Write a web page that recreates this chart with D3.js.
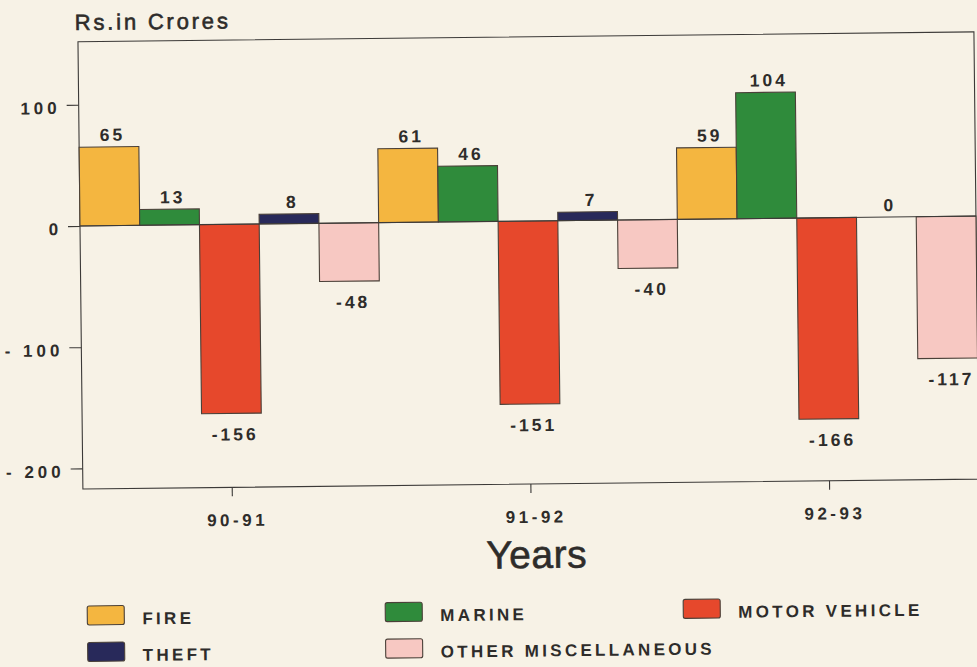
<!DOCTYPE html>
<html>
<head>
<meta charset="utf-8">
<script src="https://cdn.jsdelivr.net/npm/d3@7"></script>
<style>
  html, body { margin: 0; padding: 0; background: #f7f2e6; }
  svg { display: block; }
  text { fill: #2e2c2a; font-family: 'Liberation Sans', Arial, sans-serif; }
</style>
</head>
<body>
<svg id="chart" width="977" height="667"></svg>
<script>
'use strict';

const years = ['90-91', '91-92', '92-93'];
const seriesNames = ['FIRE', 'MARINE', 'MOTOR VEHICLE', 'THEFT', 'OTHER MISCELLANEOUS'];
const fire = [65, 61, 59];
const marine = [13, 46, 104];
const motorVehicle = [-156, -151, -166];
const theft = [8, 7, 0];
const otherMisc = [-48, -40, -117];
const yTicks = [100, 0, -100, -200];
const seriesColors = ['#f4b640', '#2f8b3b', '#e6482c', '#28295a', '#f7c8c2'];

const values = [fire, marine, motorVehicle, theft, otherMisc];
const rows = [];
years.forEach((yr, i) => {
  seriesNames.forEach((s, j) => rows.push({ year: yr, series: s, value: values[j][i], color: seriesColors[j] }));
});

const plotLeft = 80, plotRight = 976, plotTop = 41.7, plotBottom = 489;

const svg = d3.select('#chart');
svg.append('rect').attr('width', 977).attr('height', 667).attr('fill', '#f7f2e6');

// the scan is tilted a little, so the whole drawing is too
const g = svg.append('g')
  .attr('transform', 'rotate(-0.63, 81, 226)');

const x0 = d3.scaleBand().domain(years).range([plotLeft, plotRight]).padding(0);
const x1 = d3.scaleBand().domain(seriesNames).range([0, x0.bandwidth()]).padding(0);
const y = d3.scaleLinear().domain([-217, 152]).range([plotBottom, plotTop]);

// frame
g.append('rect')
  .attr('x', plotLeft).attr('y', plotTop)
  .attr('width', plotRight - plotLeft).attr('height', plotBottom - plotTop)
  .attr('fill', 'none').attr('stroke', '#3c3a38').attr('stroke-width', 1.1);

// bars
g.append('g').selectAll('rect')
  .data(rows)
  .enter().append('rect')
  .attr('x', d => x0(d.year) + x1(d.series))
  .attr('width', x1.bandwidth())
  .attr('y', d => y(Math.max(0, d.value)))
  .attr('height', d => Math.abs(y(d.value) - y(0)))
  .attr('fill', d => d.color)
  .attr('stroke', '#4a4038')
  .attr('stroke-width', 1.1);

// zero line
g.append('line')
  .attr('x1', plotLeft).attr('x2', plotRight)
  .attr('y1', y(0)).attr('y2', y(0))
  .attr('stroke', '#3c3a38').attr('stroke-width', 1);

// value labels
g.append('g').selectAll('text')
  .data(rows)
  .enter().append('text')
  .attr('x', d => x0(d.year) + x1(d.series) + x1.bandwidth() / 2 + 2)
  .attr('y', d => d.value >= 0 ? y(d.value) - 6 : y(d.value) + 27)
  .attr('text-anchor', 'middle')
  .attr('dx', 1.5)
  .style('font-size', '17.5px')
  .style('font-weight', 'bold')
  .style('letter-spacing', '3px')
  .text(d => d.value < 0 ? '-' + Math.abs(d.value) : d.value);

// y axis
const yAxis = g.append('g')
  .attr('transform', `translate(${plotLeft},0)`)
  .call(d3.axisLeft(y)
    .tickValues(yTicks)
    .tickSize(12)
    .tickPadding(6)
    .tickFormat(d => d < 0 ? '- ' + Math.abs(d) : d));
yAxis.select('.domain').remove();
yAxis.selectAll('line').attr('stroke', '#3c3a38').attr('stroke-width', 1.1);
yAxis.selectAll('text')
  .attr('dy', '0.5em')
  .style('font-size', '17px')
  .style('font-weight', 'bold')
  .style('letter-spacing', '4px')
  .style('font-family', "'Liberation Sans', Arial, sans-serif")
  .attr('fill', '#2e2c2a');

// x axis
const xAxis = g.append('g')
  .attr('transform', `translate(0,${plotBottom})`)
  .call(d3.axisBottom(x0).tickSize(9).tickSizeOuter(0).tickPadding(28));
xAxis.select('.domain').remove();
xAxis.selectAll('line').attr('stroke', '#3c3a38').attr('stroke-width', 1.1);
xAxis.selectAll('text')
  .attr('dy', '0.1em')
  .attr('dx', '5px')
  .style('font-size', '17px')
  .style('font-weight', 'bold')
  .style('letter-spacing', '3.5px')
  .style('font-family', "'Liberation Sans', Arial, sans-serif")
  .attr('fill', '#2e2c2a');

// titles
g.append('text')
  .attr('x', 77).attr('y', 30)
  .style('font-size', '22px')
  .style('letter-spacing', '2.8px')
  .attr('stroke', '#2e2c2a').attr('stroke-width', 0.6)
  .text('Rs.in Crores');

g.append('text')
  .attr('x', 533).attr('y', 573)
  .attr('text-anchor', 'middle')
  .style('font-family', "'Liberation Sans Narrow', 'Liberation Sans', Arial, sans-serif")
  .style('font-size', '39px')
  .style('letter-spacing', '0.5px')
  .attr('stroke', '#2e2c2a').attr('stroke-width', 0.6)
  .text('Years');

// legend
const legend = g.append('g').selectAll('g')
  .data(seriesNames)
  .enter().append('g')
  .attr('transform', (d, i) => `translate(${83 + (i % 3) * 298},${606 + Math.floor(i / 3) * 36.5})`);

legend.append('rect')
  .attr('width', 37).attr('height', 19)
  .attr('rx', 2)
  .attr('fill', (d, i) => seriesColors[i])
  .attr('stroke', '#4a4038').attr('stroke-width', 1.1);

legend.append('text')
  .attr('x', 55).attr('y', 19)
  .style('font-size', '17px')
  .style('font-weight', 'bold')
  .style('letter-spacing', '3.3px')
  .text(d => d);
</script>
</body>
</html>
